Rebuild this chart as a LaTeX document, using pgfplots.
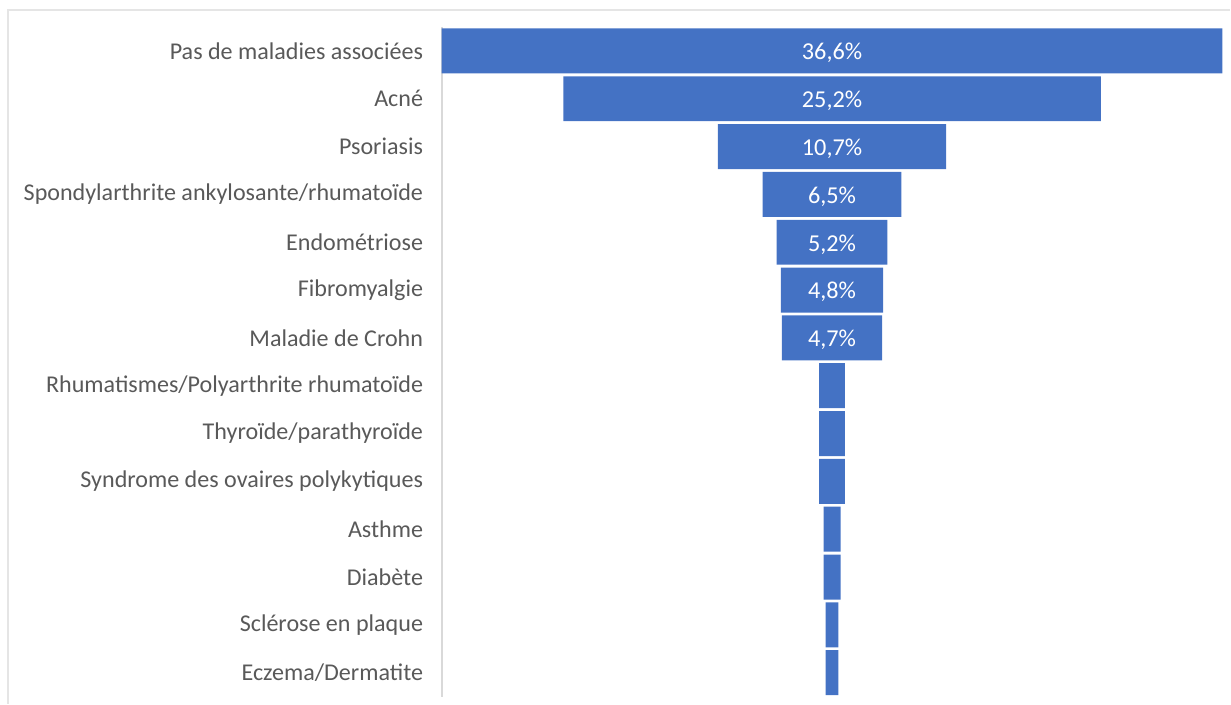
\documentclass[border=0pt]{standalone}
\usepackage{pgfplots}
\pgfplotsset{compat=1.18}
\usepackage{fontspec}
\setmainfont{Carlito}
\definecolor{barblue}{HTML}{4472C4}
\definecolor{labelgray}{HTML}{595959}
\pgfplotsset{funnel/.style={
    scale only axis,
    width=78.1mm, height=67mm,
    at={(0,0)}, anchor=south west,
    xmin=0, xmax=36.6,
    ymin=-0.5, ymax=13.5,
    y dir=reverse,
}}
\begin{document}
\begin{tikzpicture}
\path (-44.2mm,-0.7mm) rectangle (78.9mm,69.7mm);
\draw[gray!20, line width=0.4pt] (-43.4mm,-0.7mm) |- (78.9mm,68.7mm);
\begin{axis}[
    funnel,
    xbar stacked,
    bar width=0.94,
    axis x line=none,
    axis y line*=left,
    y axis line style={draw=gray!30, line width=0.6pt},
    major tick length=0,
    ytick={0,...,13},
    yticklabels={Pas de maladies associées, Acné, Psoriasis,
        Spondylarthrite ankylosante/rhumatoïde, Endométriose, Fibromyalgie,
        Maladie de Crohn, Rhumatismes/Polyarthrite rhumatoïde,
        Thyroïde/parathyroïde, Syndrome des ovaires polykytiques,
        Asthme, Diabète, Sclérose en plaque, Eczema/Dermatite},
    yticklabel style={font=\fontsize{6.85}{8.2}\selectfont, text=labelgray, xshift=-1.8pt},
]
% invisible offset that centres each bar
\addplot[draw=none, fill=none] coordinates {
    (0,0) (5.7,1) (12.95,2) (15.05,3) (15.7,4) (15.9,5) (15.95,6)
    (17.7,7) (17.7,8) (17.7,9) (17.9,10) (17.9,11) (18.0,12) (18.0,13)};
\addplot[draw=none, fill=barblue] coordinates {
    (36.6,0) (25.2,1) (10.7,2) (6.5,3) (5.2,4) (4.8,5) (4.7,6)
    (1.2,7) (1.2,8) (1.2,9) (0.8,10) (0.8,11) (0.6,12) (0.6,13)};
\end{axis}
\begin{axis}[funnel, hide axis]
\addplot[draw=none, mark=none, nodes near coords, point meta=explicit symbolic,
    every node near coord/.style={anchor=center, text=white, yshift=-0.6pt,
        font=\fontsize{6.9}{8.2}\selectfont}]
    coordinates {
    (18.3,0) [36,6\%] (18.3,1) [25,2\%] (18.3,2) [10,7\%] (18.3,3) [6,5\%]
    (18.3,4) [5,2\%] (18.3,5) [4,8\%] (18.3,6) [4,7\%]};
\end{axis}
\end{tikzpicture}
\end{document}
